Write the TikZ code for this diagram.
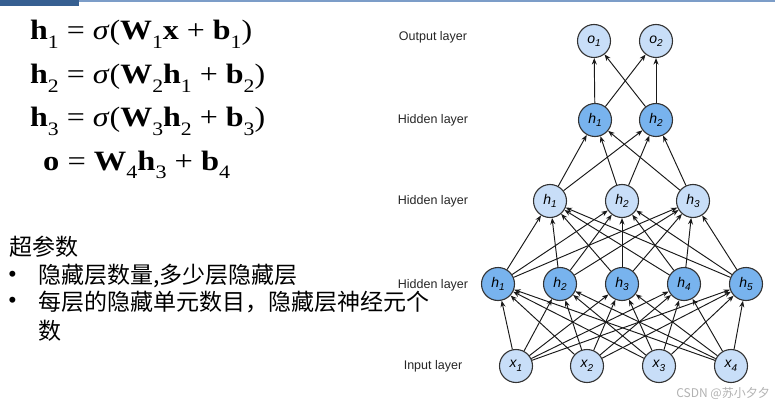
\documentclass[tikz,border=0pt]{standalone}
\usepackage{fontspec}
\usepackage{graphicx}
\setmainfont{Liberation Serif}
\setsansfont{Liberation Sans}
\newfontfamily\cjk{Noto Sans CJK SC}
\usetikzlibrary{arrows.meta}
\definecolor{nodelight}{HTML}{C8DEF8}
\definecolor{nodedark}{HTML}{78B3EE}
\definecolor{bardark}{HTML}{365F91}
\definecolor{barlight}{HTML}{7C9DC8}
\newcommand{\subx}[1]{\raisebox{-0.3em}{\fontsize{19}{19}\selectfont #1}}
\newcommand{\nl}[2]{\textit{#1\raisebox{-0.25em}{\fontsize{10}{10}\selectfont #2}}}
\tikzset{
  neuron/.style={circle, draw=black!80, line width=1.1pt, minimum size=33pt, inner sep=0pt, font=\sffamily\fontsize{14}{14}\selectfont},
  lightn/.style={neuron, fill=nodelight},
  darkn/.style={neuron, fill=nodedark},
  layerlabel/.style={font=\sffamily\fontsize{12.5}{12.5}\selectfont, text=black!85, inner sep=0pt},
  conn/.style={draw=black!90, line width=0.95pt, -{Stealth[length=6.5pt,width=5pt]}},
  eqn/.style={anchor=base west, inner sep=0pt, font=\fontsize{28}{28}\selectfont},
  cjktext/.style={anchor=west, inner sep=0pt, font=\cjk\fontsize{23}{23}\selectfont},
  bulletmark/.style={anchor=center, inner sep=0pt, font=\sffamily\fontsize{22}{22}\selectfont}
}
\begin{document}
\begin{tikzpicture}[x=1pt,y=-1pt]
\useasboundingbox (0,0) rectangle (775,406);
\fill[white] (0,0) rectangle (775,406);
% top bar
\fill[bardark] (0,0) rectangle (79,6);
\fill[barlight] (79,0) rectangle (775,2.2);
% equations
\node[eqn] (eq1) at (30,40) {\resizebox{222pt}{\height}{\textbf{h}\subx{1} = \textit{σ}(\textbf{W}\subx{1}\textbf{x} + \textbf{b}\subx{1})}};
\node[eqn] (eq2) at (30,84) {\resizebox{235pt}{\height}{\textbf{h}\subx{2} = \textit{σ}(\textbf{W}\subx{2}\textbf{h}\subx{1} + \textbf{b}\subx{2})}};
\node[eqn] (eq3) at (30,127) {\resizebox{235pt}{\height}{\textbf{h}\subx{3} = \textit{σ}(\textbf{W}\subx{3}\textbf{h}\subx{2} + \textbf{b}\subx{3})}};
\node[eqn] (eq4) at (43,170) {\resizebox{187pt}{\height}{\textbf{o} = \textbf{W}\subx{4}\textbf{h}\subx{3} + \textbf{b}\subx{4}}};
% chinese text
\node[cjktext] (t0) at (9,247) {超参数};
\node[bulletmark] (b1) at (12.5,276) {•};
\node[cjktext] (t1) at (38,276) {隐藏层数量,多少层隐藏层};
\node[bulletmark] (b2) at (12.5,302) {•};
\node[cjktext] (t2) at (38,302) {每层的隐藏单元数目，隐藏层神经元个};
\node[cjktext] (t3) at (38,331) {数};
% layer labels
\node[layerlabel] (lo) at (433,37) {Output layer};
\node[layerlabel] (lh3) at (433,120) {Hidden layer};
\node[layerlabel] (lh2) at (433,201) {Hidden layer};
\node[layerlabel] (lh1) at (433,285) {Hidden layer};
\node[layerlabel] (li) at (433,366) {Input layer};
% neurons
\node[lightn] (o1) at (594,41) {\nl{o}{1}};
\node[lightn] (o2) at (656,41) {\nl{o}{2}};
\node[darkn] (c1) at (595,120) {\nl{h}{1}};
\node[darkn] (c2) at (656,120) {\nl{h}{2}};
\node[lightn] (b1n) at (550,201) {\nl{h}{1}};
\node[lightn] (b2n) at (622,201) {\nl{h}{2}};
\node[lightn] (b3n) at (693,201) {\nl{h}{3}};
\node[darkn] (a1) at (498,284) {\nl{h}{1}};
\node[darkn] (a2) at (560,284) {\nl{h}{2}};
\node[darkn] (a3) at (622,284) {\nl{h}{3}};
\node[darkn] (a4) at (684,284) {\nl{h}{4}};
\node[darkn] (a5) at (746,284) {\nl{h}{5}};
\node[lightn] (x1) at (516,366) {\nl{x}{1}};
\node[lightn] (x2) at (587,366) {\nl{x}{2}};
\node[lightn] (x3) at (659,366) {\nl{x}{3}};
\node[lightn] (x4) at (731,366) {\nl{x}{4}};
% connections
\foreach \s in {x1,x2,x3,x4}
  \foreach \t in {a1,a2,a3,a4,a5}
    \draw[conn] (\s) -- (\t);
\foreach \s in {a1,a2,a3,a4,a5}
  \foreach \t in {b1n,b2n,b3n}
    \draw[conn] (\s) -- (\t);
\foreach \s in {b1n,b2n,b3n}
  \foreach \t in {c1,c2}
    \draw[conn] (\s) -- (\t);
\foreach \s in {c1,c2}
  \foreach \t in {o1,o2}
    \draw[conn] (\s) -- (\t);
% watermark
\node[anchor=east, inner sep=0pt, text=black!30, font=\cjk\fontsize{12}{12}\selectfont] (wm) at (770,393) {CSDN @苏小夕夕};
\end{tikzpicture}
\end{document}
